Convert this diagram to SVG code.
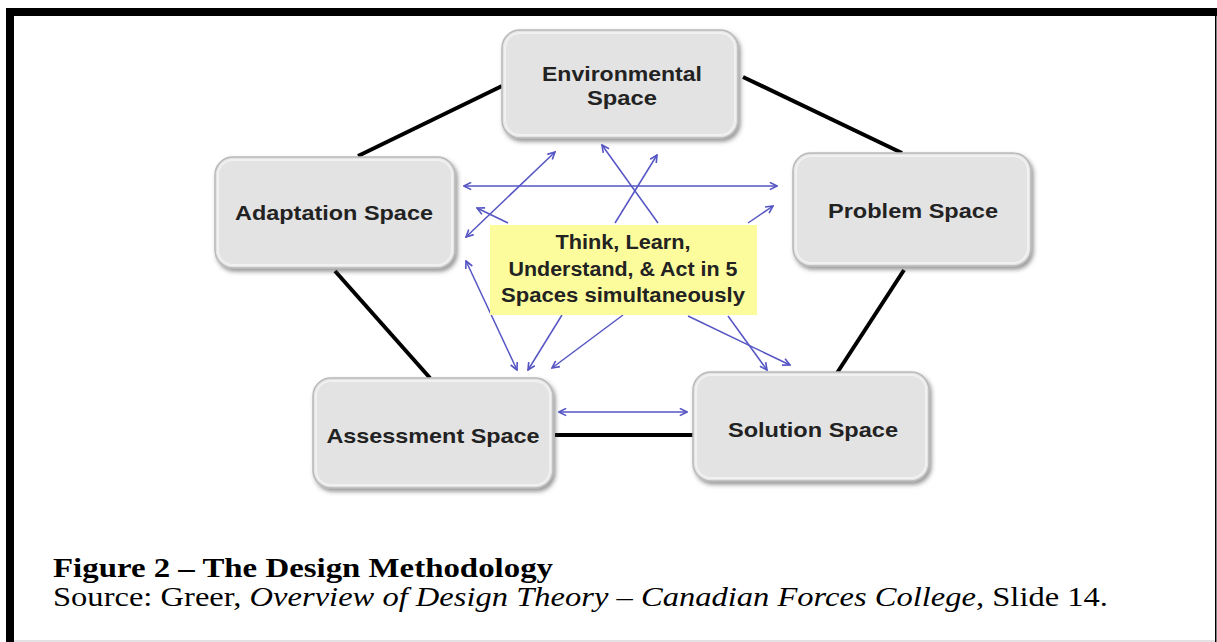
<svg xmlns="http://www.w3.org/2000/svg" width="1217" height="642" viewBox="0 0 1217 642">
  <defs>
    <style>
      .node { fill: #e3e3e3; stroke: #b9b9b9; stroke-width: 1.5; filter: url(#shadow); }
      .rim { fill: none; stroke: #f4f4f4; stroke-width: 2; opacity: 0.8; }
      .lbl { font-family: "Liberation Sans", Arial, sans-serif; font-weight: bold; font-size: 21px; fill: #222; text-anchor: middle; }
      .ctr { font-family: "Liberation Sans", Arial, sans-serif; font-weight: bold; font-size: 20px; fill: #222; text-anchor: middle; }
      .edge { stroke: #000; stroke-width: 4; fill: none; }
      .flow { stroke: #5555c4; stroke-width: 1.5; fill: none; }
      .one { marker-end: url(#head); }
      .two { marker-start: url(#head); marker-end: url(#head); }
      .cap { font-family: "Liberation Serif", "Times New Roman", serif; font-size: 27px; fill: #000; }
    </style>
    <filter id="shadow" x="-10%" y="-10%" width="125%" height="130%">
      <feDropShadow dx="2" dy="3" stdDeviation="2" flood-color="#444" flood-opacity="0.55"/>
    </filter>
    <marker id="head" viewBox="0 0 10 10" refX="9" refY="5" markerWidth="9" markerHeight="9" markerUnits="userSpaceOnUse" orient="auto-start-reverse">
      <path d="M1,1 L9,5 L1,9" fill="none" stroke="#5555c4" stroke-width="1.8"/>
    </marker>
  </defs>

  <!-- page frame -->
  <rect x="0" y="0" width="1217" height="642" fill="#fff"/>
  <rect x="6" y="8" width="1211" height="8" fill="#000"/>
  <rect x="6" y="8" width="8" height="634" fill="#000"/>
  <rect x="1215" y="8" width="1.5" height="634" fill="#000"/>
  <rect x="14" y="640" width="1201" height="2" fill="#e2e2e2"/>

  <!-- pentagon edges and cross-links -->
  <g id="connectors">
    <line class="edge" x1="358" y1="156" x2="502" y2="86"/>
    <line class="edge" x1="743" y1="77" x2="902" y2="153"/>
    <line class="edge" x1="904" y1="270" x2="837" y2="373"/>
    <line class="edge" x1="335" y1="271" x2="430" y2="378"/>
    <line class="edge" x1="555" y1="435" x2="693" y2="435"/>

    <line class="flow two" x1="464" y1="186" x2="777" y2="186"/>
    <line class="flow one" x1="658" y1="223" x2="602" y2="145"/>
    <line class="flow one" x1="615" y1="223" x2="657" y2="155"/>
    <line class="flow two" x1="555" y1="152" x2="466" y2="237"/>
    <line class="flow one" x1="508" y1="223" x2="477" y2="208"/>
    <line class="flow one" x1="748" y1="223" x2="773" y2="206"/>
    <line class="flow two" x1="466" y1="261" x2="517" y2="370"/>
    <line class="flow one" x1="562" y1="315" x2="528" y2="370"/>
    <line class="flow one" x1="623" y1="315" x2="552" y2="368"/>
    <line class="flow one" x1="688" y1="316" x2="790" y2="365"/>
    <line class="flow one" x1="728" y1="316" x2="767" y2="370"/>
    <line class="flow two" x1="559" y1="412" x2="687" y2="412"/>
  </g>

  <g id="environmental">
    <rect class="node" x="502" y="30" width="236" height="108" rx="18"/>
    <rect class="rim" x="505" y="33" width="230" height="102" rx="15"/>
    <text class="lbl" x="622" y="81" textLength="160" lengthAdjust="spacingAndGlyphs">Environmental</text>
    <text class="lbl" x="622" y="105" textLength="70" lengthAdjust="spacingAndGlyphs">Space</text>
  </g>

  <g id="adaptation">
    <rect class="node" x="215" y="157" width="240" height="111" rx="18"/>
    <rect class="rim" x="218" y="160" width="234" height="105" rx="15"/>
    <text class="lbl" x="334" y="220" textLength="198" lengthAdjust="spacingAndGlyphs">Adaptation Space</text>
  </g>

  <g id="problem">
    <rect class="node" x="793" y="153" width="238" height="113" rx="18"/>
    <rect class="rim" x="796" y="156" width="232" height="107" rx="15"/>
    <text class="lbl" x="913" y="218" textLength="170" lengthAdjust="spacingAndGlyphs">Problem Space</text>
  </g>

  <g id="assessment">
    <rect class="node" x="313" y="378" width="240" height="110" rx="18"/>
    <rect class="rim" x="316" y="381" width="234" height="104" rx="15"/>
    <text class="lbl" x="433" y="443" textLength="213" lengthAdjust="spacingAndGlyphs">Assessment Space</text>
  </g>

  <g id="solution">
    <rect class="node" x="693" y="372" width="236" height="109" rx="18"/>
    <rect class="rim" x="696" y="375" width="230" height="103" rx="15"/>
    <text class="lbl" x="813" y="437" textLength="170" lengthAdjust="spacingAndGlyphs">Solution Space</text>
  </g>

  <g id="centre">
    <rect x="490" y="225" width="267" height="90" fill="#fcfc9c"/>
    <text class="ctr" x="623" y="249" textLength="135" lengthAdjust="spacingAndGlyphs">Think, Learn,</text>
    <text class="ctr" x="623" y="276" textLength="229" lengthAdjust="spacingAndGlyphs">Understand, &amp; Act in 5</text>
    <text class="ctr" x="623" y="302" textLength="244" lengthAdjust="spacingAndGlyphs">Spaces simultaneously</text>
  </g>

  <g id="caption">
    <text class="cap" x="53" y="577" font-weight="bold" textLength="500" lengthAdjust="spacingAndGlyphs">Figure 2 – The Design Methodology</text>
    <text class="cap" x="53" y="606" textLength="1055" lengthAdjust="spacingAndGlyphs">Source: Greer, <tspan font-style="italic">Overview of Design Theory – Canadian Forces College</tspan>, Slide 14.</text>
  </g>
</svg>
